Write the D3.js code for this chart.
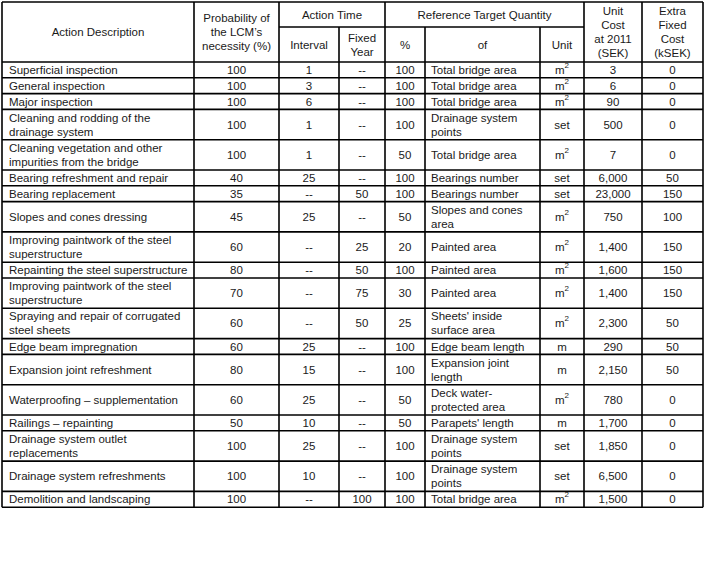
<html>
<script src="https://d3js.org/d3.v7.min.js"></script>
<style>
body {margin:0; background:#fff;}
text {font-family: "Liberation Sans", Arial, sans-serif; font-size: 11.5px; fill: #1a1a1a;}
line {stroke: #000; stroke-width: 1.6;}
</style>
<body>
<svg width=705 height=561></svg>
<script>
var actions = ["Superficial inspection","General inspection","Major inspection",
  "Cleaning and rodding of the\ndrainage system","Cleaning vegetation and other\nimpurities from the bridge",
  "Bearing refreshment and repair","Bearing replacement","Slopes and cones dressing",
  "Improving paintwork of the steel\nsuperstructure","Repainting the steel superstructure",
  "Improving paintwork of the steel\nsuperstructure","Spraying and repair of corrugated\nsteel sheets",
  "Edge beam impregnation","Expansion joint refreshment","Waterproofing \u2013 supplementation",
  "Railings \u2013 repainting","Drainage system outlet\nreplacements","Drainage system refreshments",
  "Demolition and landscaping"];
var probability = ["100","100","100","100","100","40","35","45","60","80","70","60","60","80","60","50","100","100","100"];
var interval = ["1","3","6","1","1","25","--","25","--","--","--","--","25","15","25","10","25","10","--"];
var fixedYear = ["--","--","--","--","--","--","50","--","25","50","75","50","--","--","--","--","--","--","100"];
var targetPct = ["100","100","100","100","50","100","100","50","20","100","30","25","100","100","50","50","100","100","100"];
var targetOf = ["Total bridge area","Total bridge area","Total bridge area","Drainage system\npoints",
  "Total bridge area","Bearings number","Bearings number","Slopes and cones\narea","Painted area",
  "Painted area","Painted area","Sheets' inside\nsurface area","Edge beam length","Expansion joint\nlength",
  "Deck water-\nprotected area","Parapets' length","Drainage system\npoints","Drainage system\npoints",
  "Total bridge area"];
var units = ["m2","m2","m2","set","m2","set","set","m2","m2","m2","m2","m2","m","m","m2","m","set","set","m2"];
var unitCost = ["3","6","90","500","7","6,000","23,000","750","1,400","1,600","1,400","2,300","290","2,150","780","1,700","1,850","6,500","1,500"];
var extraCost = ["0","0","0","0","0","50","150","100","150","150","150","50","50","50","0","0","0","0","0"];

var svg = d3.select("svg");
var xs = [2,194,279,339,385,425,540,584,642,703];
var tableTop = 2, subY = 27, headBottom = 62;
var lineH = 14;

// row heights from the number of wrapped lines
var cols = [actions, probability, interval, fixedYear, targetPct, targetOf, units, unitCost, extraCost];
var nLines = actions.map(function(d, i) {
  return d3.max(cols, function(c) { return c[i].split("\n").length; });
});
var h1 = 15.8, h2 = 30.3;
var ys = [headBottom];
nLines.forEach(function(n) { ys.push(ys[ys.length-1] + (n > 1 ? h2 : h1)); });

function multi(x, yc, str, anchor) {
  var parts = str.split("\n");
  var t = svg.append("text").attr("text-anchor", anchor || "middle");
  parts.forEach(function(p, k) {
    t.append("tspan").attr("x", x)
      .attr("y", yc + (k - (parts.length - 1) / 2) * lineH + 4).text(p);
  });
  return t;
}

// header
multi((xs[0]+xs[1])/2, (tableTop+headBottom)/2, "Action Description");
multi((xs[1]+xs[2])/2, (tableTop+headBottom)/2, "Probability of\nthe LCM\u2019s\nnecessity (%)");
multi((xs[2]+xs[4])/2, (tableTop+subY)/2, "Action Time");
multi((xs[2]+xs[3])/2, (subY+headBottom)/2, "Interval");
multi((xs[3]+xs[4])/2, (subY+headBottom)/2, "Fixed\nYear");
multi((xs[4]+xs[7])/2, (tableTop+subY)/2, "Reference Target Quantity");
multi((xs[4]+xs[5])/2, (subY+headBottom)/2, "%");
multi((xs[5]+xs[6])/2, (subY+headBottom)/2, "of");
multi((xs[6]+xs[7])/2, (subY+headBottom)/2, "Unit");
multi((xs[7]+xs[8])/2, (tableTop+headBottom)/2, "Unit\nCost\nat 2011\n(SEK)");
multi((xs[8]+xs[9])/2, (tableTop+headBottom)/2, "Extra\nFixed\nCost\n(kSEK)");

// body
actions.forEach(function(a, i) {
  var yc = (ys[i] + ys[i+1]) / 2;
  multi(xs[0] + 7, yc, a, "start");
  multi((xs[1]+xs[2])/2, yc, probability[i]);
  multi((xs[2]+xs[3])/2, yc, interval[i]);
  multi((xs[3]+xs[4])/2, yc, fixedYear[i]);
  multi((xs[4]+xs[5])/2, yc, targetPct[i]);
  multi(xs[5] + 6, yc, targetOf[i], "start");
  var u = units[i];
  if (u === "m2") {
    var t = multi((xs[6]+xs[7])/2, yc, "m");
    t.append("tspan").attr("dy", -6).style("font-size", "8px").text("2");
  } else {
    multi((xs[6]+xs[7])/2, yc, u);
  }
  multi((xs[7]+xs[8])/2, yc, unitCost[i]);
  multi((xs[8]+xs[9])/2, yc, extraCost[i]);
});

// grid lines
var bottom = ys[ys.length-1];
svg.selectAll(".v").data(xs).enter().append("line")
  .attr("x1", function(d) { return d; }).attr("x2", function(d) { return d; })
  .attr("y1", function(d, i) { return (i === 3 || i === 5 || i === 6) ? subY : tableTop; })
  .attr("y2", bottom);
svg.selectAll(".h").data(ys).enter().append("line")
  .attr("x1", xs[0]).attr("x2", xs[9])
  .attr("y1", function(d) { return d; }).attr("y2", function(d) { return d; });
svg.append("line").attr("x1", xs[0]).attr("x2", xs[9]).attr("y1", tableTop).attr("y2", tableTop);
svg.append("line").attr("x1", xs[2]).attr("x2", xs[7]).attr("y1", subY).attr("y2", subY);
</script>
</body>
</html>
